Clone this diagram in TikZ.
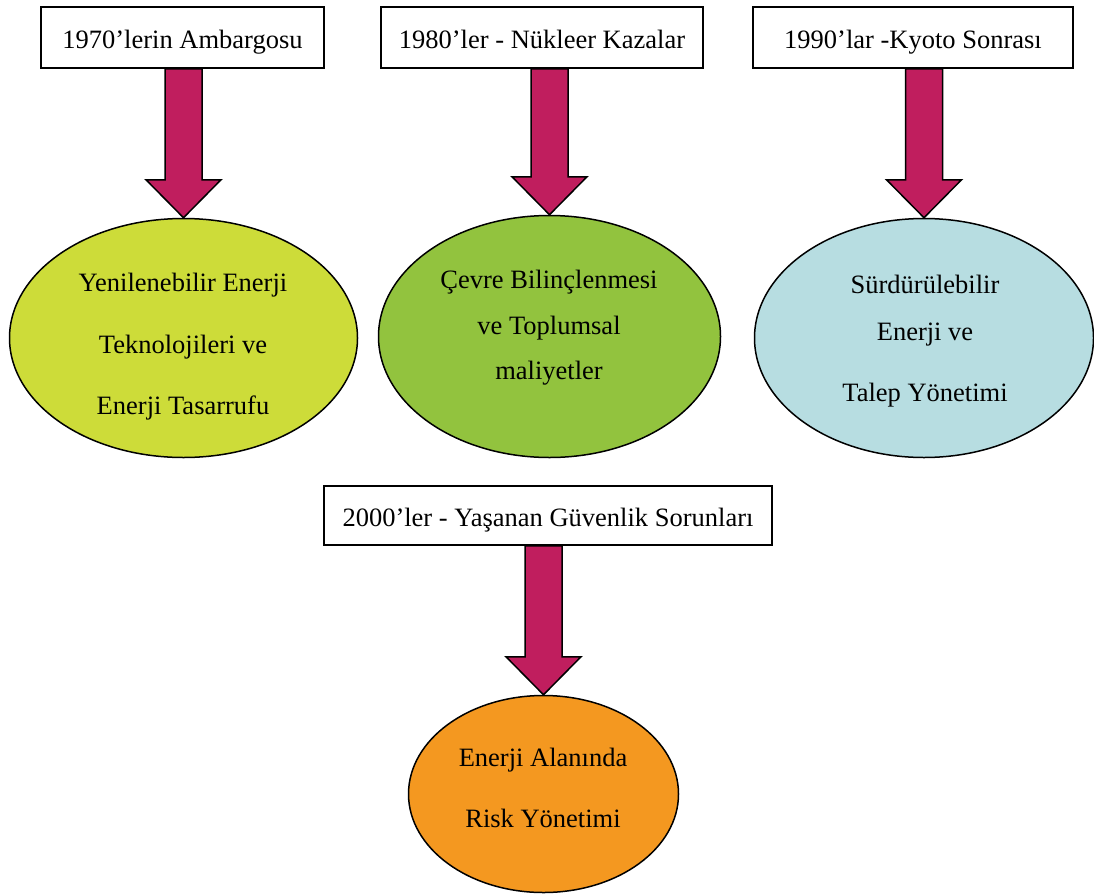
\documentclass[tikz,border=0pt]{standalone}
\usepackage{fontspec}
\setmainfont{Liberation Serif}
\usetikzlibrary{shapes.geometric,calc}
\definecolor{arrowred}{RGB}{192,30,94}
\definecolor{ovalA}{RGB}{205,220,57}
\definecolor{ovalB}{RGB}{146,195,62}
\definecolor{ovalC}{RGB}{183,221,225}
\definecolor{ovalD}{RGB}{244,152,32}
\newcommand\fatarrow[2]{%
  \draw[fatarrow] let \p1=(#1.south), \p2=(#2.north) in
    (\x2-18.5pt,\y1) -- (\x2-18.5pt,\y2+38pt) -- (\x2-37.5pt,\y2+38pt) -- (\x2,\y2)
    -- (\x2+37.5pt,\y2+38pt) -- (\x2+18.5pt,\y2+38pt) -- (\x2+18.5pt,\y1) -- cycle;}
\begin{document}
\begin{tikzpicture}[x=1pt,y=-1pt,
  tbox/.style={draw=black,line width=1.5pt,fill=white,inner sep=0pt,minimum height=61pt,
    text height=21pt,text depth=0pt,font=\fontsize{26.5}{30}\selectfont},
  oval/.style={ellipse,draw=black,line width=1.5pt,inner sep=0pt},
  otext/.style={align=center,inner sep=0pt,font=\fontsize{26.5}{30}\selectfont},
  fatarrow/.style={fill=arrowred,draw=black,line width=1.5pt,line join=miter}]
\useasboundingbox (0,0) rectangle (1094,894);
% header boxes
\node[tbox,minimum width=283pt] (b1) at (182.5,37.5) {1970’lerin Ambargosu};
\node[tbox,minimum width=322pt] (b2) at (542,37.5) {1980’ler - Nükleer Kazalar};
\node[tbox,minimum width=320pt] (b3) at (913,37.5) {1990’lar -Kyoto Sonrası};
\node[tbox,minimum width=448pt,minimum height=59pt] (b4) at (548,515.5) {2000’ler - Yaşanan Güvenlik Sorunları};
% ovals
\node[oval,fill=ovalA,minimum width=348pt,minimum height=239pt] (e1) at (183.5,338) {};
\node[oval,fill=ovalB,minimum width=342pt,minimum height=242pt] (e2) at (549.5,336.5) {};
\node[oval,fill=ovalC,minimum width=339pt,minimum height=239pt] (e3) at (924,338) {};
\node[oval,fill=ovalD,minimum width=270pt,minimum height=197pt] (e4) at (543.5,794) {};
% oval texts
\node[otext] (t1) at (183,347) {Yenilenebilir Enerji\\[31.5pt]Teknolojileri ve\\[31.5pt]Enerji Tasarrufu};
\node[otext] (t2) at (549,328) {Çevre Bilinçlenmesi\\[15.5pt]ve Toplumsal\\[15.5pt]maliyetler};
\node[otext] (t3) at (925,341) {Sürdürülebilir\\[17pt]Enerji ve\\[31pt]Talep Yönetimi};
\node[otext] (t4) at (543,788) {Enerji Alanında\\[31pt]Risk Yönetimi};
% arrows
\fatarrow{b1}{e1}
\fatarrow{b2}{e2}
\fatarrow{b3}{e3}
\fatarrow{b4}{e4}
\end{tikzpicture}
\end{document}
